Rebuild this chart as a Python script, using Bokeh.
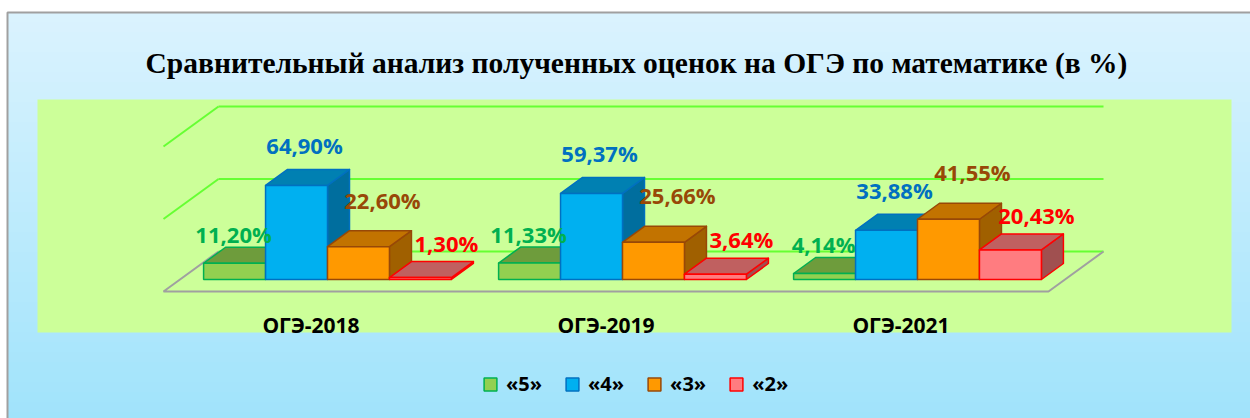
from bokeh.plotting import figure
from bokeh.models import Range1d, Legend, LegendItem
from bokeh.core.properties import value
from bokeh.embed import file_html
from bokeh.resources import INLINE

# ---------------- data ----------------
title_text = "Сравнительный анализ полученных оценок на ОГЭ по математике (в %)"
categories = ["ОГЭ-2018", "ОГЭ-2019", "ОГЭ-2021"]
series_names = ["«5»", "«4»", "«3»", "«2»"]
grade5 = [11.20, 11.33, 4.14]
grade4 = [64.90, 59.37, 33.88]
grade3 = [22.60, 25.66, 41.55]
grade2 = [1.30, 3.64, 20.43]
value_ticks = [0, 50, 100]
series_values = [grade5, grade4, grade3, grade2]

# ---------------- styles ----------------
W, H = 1250, 418
PX_PER_CAT = 295.0            # px per category unit
PX_PER_PCT = 1.45             # px per percent
ORIGIN_X = 310.5              # canvas px where x = 0 (floor front-left is x=-0.5)
FLOOR_Y = 291                 # canvas px of the floor front edge

DX = 55.0 / PX_PER_CAT        # full floor depth, x component (data units)
DY = 40.0 / PX_PER_PCT        # full floor depth, y component (data units)
Z0, Z1 = 0.3, 0.7             # bar depth position
BAR_W = 0.21

front_cols = ["#92D050", "#00B0F0", "#FF9900", "#FF7C80"]
top_cols = ["#6E9C3C", "#0080B2", "#C27300", "#C06060"]
side_cols = ["#5C8731", "#006E9E", "#A06000", "#A05050"]
edge_cols = ["#00B050", "#0070C0", "#984807", "#FF0000"]
label_cols = ["#00B050", "#0070C0", "#984807", "#FF0000"]
label_dx_px = [-12, -3, 13, 15]
label_dy_px = [21, 32, 39, 27]

FONT = "Open Sans"


def px2x(px):
    return (px - ORIGIN_X) / PX_PER_CAT


def px2y(py):
    return (FLOOR_Y - py) / PX_PER_PCT


x_start = px2x(0)
x_end = px2x(W)
y_end = px2y(0)
y_start = px2y(H)


def lerp_col(c1, c2, t):
    a = [int(c1[i:i + 2], 16) for i in (1, 3, 5)]
    b = [int(c2[i:i + 2], 16) for i in (1, 3, 5)]
    return "#%02x%02x%02x" % tuple(round(a[k] + (b[k] - a[k]) * t) for k in range(3))


BG_TOP, BG_BOT = "#DBF3FE", "#A0E3FB"


def bg_at(py):
    return lerp_col(BG_TOP, BG_BOT, min(max((py - 12) / (418 - 12), 0), 1))


p = figure(width=W, height=H, output_backend="svg", toolbar_location=None,
           x_range=Range1d(x_start, x_end), y_range=Range1d(y_start, y_end),
           x_axis_type=None, y_axis_type=None,
           min_border=0, border_fill_color="#FFFFFF",
           background_fill_color="#FFFFFF", outline_line_color=None)

# chart-area background: vertical gradient
BOX_L, BOX_T = 7, 12
b_bot, b_top, b_col = [], [], []
for k in range(41):
    y_top_px = BOX_T + k * 10
    b_top.append(px2y(y_top_px))
    b_bot.append(px2y(y_top_px + 10))
    b_col.append(bg_at(y_top_px + 5))
p.quad(left=px2x(BOX_L), right=x_end, bottom=b_bot, top=b_top, fill_color=b_col,
       line_color=b_col, line_width=1)
# chart-area border (left and top visible)
p.line([px2x(BOX_L), px2x(BOX_L), x_end], [y_start, px2y(BOX_T), px2y(BOX_T)],
       line_color="#A0A0A0", line_width=2)

# title
p.text(x=[px2x(145)], y=[px2y(62)], text=[title_text], text_font=value("Liberation Serif"),
       text_font_style="bold", text_font_size="29.5px", text_color="#000000",
       text_align="left", text_baseline="alphabetic")

# lime plot area
p.quad(left=px2x(37), right=px2x(1231), bottom=px2y(332), top=px2y(99),
       fill_color="#CCFF99", line_color=None)

# gridlines (left wall diagonal + back wall)
x_left, x_right = -0.5, len(categories) - 0.5
for t in value_ticks:
    if t > 0:
        p.line([x_left, x_left + DX], [t, t + DY], line_color="#66FF33", line_width=2)
    p.line([x_left + DX, x_right + DX], [t + DY, t + DY], line_color="#66FF33", line_width=2)

# floor outline (front, left, right edges)
p.line([x_left + DX, x_left, x_right, x_right + DX], [DY, 0, 0, DY],
       line_color="#A0A0A0", line_width=2)

# ---------------- 3D bars ----------------
dDX = (Z1 - Z0) * DX
dDY = (Z1 - Z0) * DY
base = Z0 * DY
front_renderers = []
for s, vals in enumerate(series_values):
    lefts = [i + (s - 2) * BAR_W + Z0 * DX for i in range(len(categories))]
    rights = [l + BAR_W for l in lefts]
    tops = [base + v for v in vals]
    side_xs = [[r, r + dDX, r + dDX, r] for r in rights]
    side_ys = [[base, base + dDY, t + dDY, t] for t in tops]
    top_xs = [[l, r, r + dDX, l + dDX] for l, r in zip(lefts, rights)]
    top_ys = [[t, t, t + dDY, t + dDY] for t in tops]
    p.patches(side_xs, side_ys, fill_color=side_cols[s], line_color=edge_cols[s],
              line_width=1.5, line_join="round")
    p.patches(top_xs, top_ys, fill_color=top_cols[s], line_color=edge_cols[s],
              line_width=1.5, line_join="round")
    fr = p.quad(left=lefts, right=rights, bottom=[base] * len(vals), top=tops,
                fill_color=front_cols[s], line_color=edge_cols[s], line_width=1.5)
    front_renderers.append(fr)

# data labels
for s, vals in enumerate(series_values):
    lx = [i + (s - 2) * BAR_W + BAR_W / 2 + 0.5 * DX + label_dx_px[s] / PX_PER_CAT
          for i in range(len(categories))]
    ly = [v + 0.5 * DY + label_dy_px[s] / PX_PER_PCT for v in vals]
    txt = [("%.2f" % v).replace(".", ",") + "%" for v in vals]
    p.text(x=lx, y=ly, text=txt, text_font=value(FONT), text_font_style="bold",
           text_font_size="22px", text_color=label_cols[s], text_align="center",
           text_baseline="middle")

# category labels
p.text(x=list(range(len(categories))), y=[px2y(324)] * len(categories), text=categories,
       text_font=value(FONT), text_font_style="bold", text_font_size="21px",
       text_color="#000000", text_align="center", text_baseline="middle")

legend = Legend(items=[LegendItem(label=n, renderers=[r]) for n, r in zip(series_names, front_renderers)],
                orientation="horizontal", location=(482, 21), glyph_width=16, glyph_height=16,
                label_text_font=FONT, label_text_font_size="20px", label_text_font_style="bold",
                label_text_color="#000000", spacing=22, padding=0, margin=0, label_standoff=8,
                border_line_color=None, background_fill_alpha=0)
p.add_layout(legend)

open("out.html", "w").write(file_html(p, INLINE))
